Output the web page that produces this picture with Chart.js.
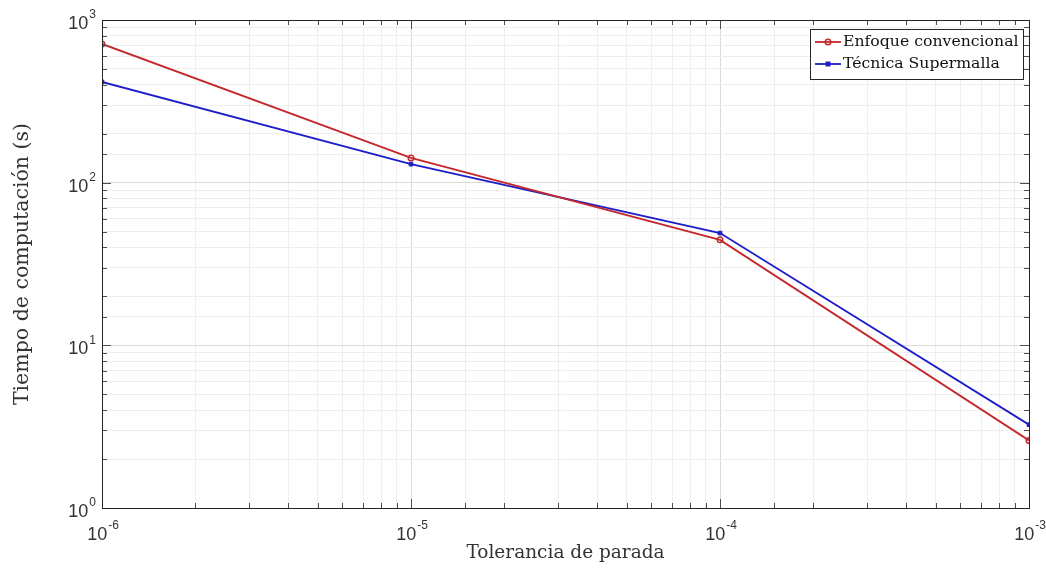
<!DOCTYPE html>
<html>
<head>
<meta charset="utf-8">
<script src="https://cdn.jsdelivr.net/npm/chart.js@4/dist/chart.umd.min.js"></script>
<style>
  html, body { margin: 0; padding: 0; background: #fff; }
  #wrap { width: 1046px; height: 569px; }
</style>
</head>
<body>
<div id="wrap"><canvas id="tiempoChart"></canvas></div>
<script>
// datos
const tolerancias = [1e-6, 1e-5, 1e-4, 1e-3];
const convencional = [712, 142, 44.5, 2.6];
const supermalla = [416, 130, 49, 3.25];
const seriesNames = ['Enfoque convencional', 'Técnica Supermalla'];
const xTitle = 'Tolerancia de parada';
const yTitle = 'Tiempo de computación (s)';

function isMajor(v) {
  return Math.abs(Math.log10(v) - Math.round(Math.log10(v))) < 1e-6;
}

const SANS = '"Liberation Sans", Arial, sans-serif';
const SERIF = '"DejaVu Serif", "Liberation Serif", serif';

// etiqueta 10^n con exponente elevado
function drawPow(ctx, e, x, y, align) {
  const base = '10', ex = String(e);
  ctx.font = '18px ' + SANS;
  const wb = ctx.measureText(base).width;
  ctx.font = '12px ' + SANS;
  const we = ctx.measureText(ex).width;
  const w = wb + we + 1;
  let x0 = align === 'right' ? x - w : x - w / 2;
  ctx.textAlign = 'left';
  ctx.textBaseline = 'middle';
  ctx.font = '18px ' + SANS;
  ctx.fillText(base, x0, y);
  ctx.font = '12px ' + SANS;
  ctx.fillText(ex, x0 + wb + 1, y - 9);
}

const frame = {
  id: 'frame',
  afterDraw(chart) {
    const {ctx, chartArea: a} = chart;
    const xs = chart.scales.x, ys = chart.scales.y;
    ctx.save();
    // marcas de escala hacia dentro
    ctx.strokeStyle = '#4d4d4d';
    ctx.lineWidth = 1;
    ctx.beginPath();
    xs.ticks.forEach(t => {
      const px = Math.round(xs.getPixelForValue(t.value)) + 0.5;
      const len = isMajor(t.value) ? 9 : 5;
      ctx.moveTo(px, a.bottom); ctx.lineTo(px, a.bottom - len);
      ctx.moveTo(px, a.top); ctx.lineTo(px, a.top + len);
    });
    ys.ticks.forEach(t => {
      const py = Math.round(ys.getPixelForValue(t.value)) + 0.5;
      const len = isMajor(t.value) ? 9 : 5;
      ctx.moveTo(a.left, py); ctx.lineTo(a.left + len, py);
      ctx.moveTo(a.right, py); ctx.lineTo(a.right - len, py);
    });
    ctx.stroke();
    ctx.strokeStyle = '#262626';
    ctx.lineWidth = 1;
    ctx.strokeRect(a.left + 0.5, a.top + 0.5, a.right - a.left, a.bottom - a.top);

    // etiquetas de los ejes
    ctx.fillStyle = '#333';
    xs.ticks.filter(t => isMajor(t.value)).forEach(t => {
      drawPow(ctx, Math.round(Math.log10(t.value)), xs.getPixelForValue(t.value) + 1, a.bottom + 27, 'center');
    });
    ys.ticks.filter(t => isMajor(t.value)).forEach(t => {
      drawPow(ctx, Math.round(Math.log10(t.value)), a.left - 6, ys.getPixelForValue(t.value) + 4, 'right');
    });

    // leyenda
    const bx = 810, by = 29, bw = 213, bh = 50;
    ctx.fillStyle = '#fff';
    ctx.fillRect(bx, by, bw, bh);
    ctx.strokeStyle = '#262626';
    ctx.lineWidth = 1;
    ctx.strokeRect(bx + 0.5, by + 0.5, bw, bh);
    ctx.font = '15.7px ' + SERIF;
    ctx.textAlign = 'left';
    ctx.textBaseline = 'middle';
    chart.data.datasets.forEach((ds, i) => {
      const y = by + 13 + i * 22;
      ctx.strokeStyle = ds.borderColor;
      ctx.lineWidth = 1.8;
      ctx.beginPath();
      ctx.moveTo(bx + 5, y);
      ctx.lineTo(bx + 31, y);
      ctx.stroke();
      if (ds.pointStyle === 'rect') {
        ctx.fillStyle = ds.borderColor;
        ctx.fillRect(bx + 15.5, y - 2.5, 5, 5);
      } else {
        ctx.lineWidth = 1.4;
        ctx.beginPath();
        ctx.arc(bx + 18, y, 2.8, 0, Math.PI * 2);
        ctx.stroke();
      }
      ctx.fillStyle = '#111';
      ctx.fillText(ds.label, bx + 33, y);
    });
    ctx.restore();
  }
};

new Chart(document.getElementById('tiempoChart'), {
  type: 'line',
  data: {
    datasets: [
      {
        label: seriesNames[0],
        data: tolerancias.map((x, i) => ({x: x, y: convencional[i]})),
        borderColor: 'rgb(196, 40, 44)',
        backgroundColor: 'rgba(0,0,0,0)',
        borderWidth: 1.9,
        pointStyle: 'circle',
        pointRadius: 2.8,
        pointBorderWidth: 1.4,
        tension: 0
      },
      {
        label: seriesNames[1],
        data: tolerancias.map((x, i) => ({x: x, y: supermalla[i]})),
        borderColor: 'rgb(30, 30, 200)',
        backgroundColor: 'rgb(30, 30, 200)',
        borderWidth: 1.9,
        pointStyle: 'rect',
        pointRadius: 2.6,
        pointBorderWidth: 1,
        tension: 0
      }
    ]
  },
  options: {
    responsive: true,
    maintainAspectRatio: false,
    animation: false,
    layout: { padding: { left: 0, right: 17, top: 20, bottom: 0 } },
    plugins: {
      legend: { display: false },
      tooltip: { enabled: false }
    },
    scales: {
      x: {
        type: 'logarithmic',
        min: 1e-6,
        max: 1e-3,
        border: { display: false },
        grid: {
          color: ctx => isMajor(ctx.tick.value) ? '#dadada' : '#eeeeee',
          lineWidth: 1,
          drawTicks: false
        },
        ticks: {
          autoSkip: false,
          maxRotation: 0,
          callback: () => ''
        },
        title: {
          display: true,
          text: xTitle,
          color: '#333',
          font: { family: SERIF, size: 18.5 },
          padding: { top: 0, bottom: 5 }
        },
        afterFit: s => { s.height = 61; }
      },
      y: {
        type: 'logarithmic',
        min: 1,
        max: 1000,
        border: { display: false },
        grid: {
          color: ctx => isMajor(ctx.tick.value) ? '#dadada' : '#eeeeee',
          lineWidth: 1,
          drawTicks: false
        },
        ticks: {
          autoSkip: false,
          callback: () => ''
        },
        title: {
          display: true,
          text: yTitle,
          color: '#333',
          font: { family: SERIF, size: 20.5 },
          padding: { top: 10, bottom: 0 }
        },
        afterFit: s => { s.width = 102; }
      }
    }
  },
  plugins: [frame]
});
</script>
</body>
</html>
